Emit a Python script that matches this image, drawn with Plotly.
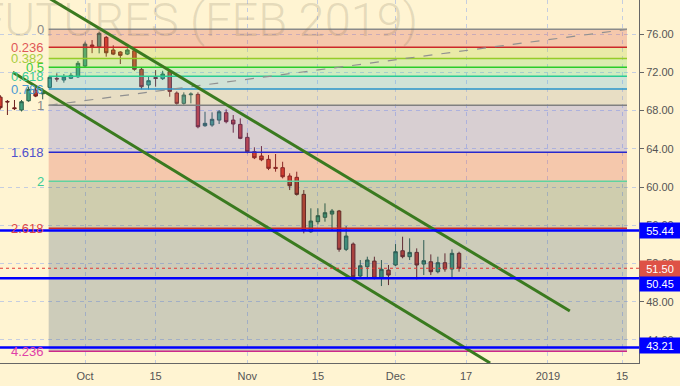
import plotly.graph_objects as go

# ---------------- data ----------------
dates = ["2018-09-13", "2018-09-14", "2018-09-17", "2018-09-18", "2018-09-19", "2018-09-20", "2018-09-21",
         "2018-09-24", "2018-09-25", "2018-09-26", "2018-09-27", "2018-09-28",
         "2018-10-01", "2018-10-02", "2018-10-03", "2018-10-04", "2018-10-05",
         "2018-10-08", "2018-10-09", "2018-10-10", "2018-10-11", "2018-10-12",
         "2018-10-15", "2018-10-16", "2018-10-17", "2018-10-18", "2018-10-19",
         "2018-10-22", "2018-10-23", "2018-10-24", "2018-10-25", "2018-10-26",
         "2018-10-29", "2018-10-30", "2018-10-31", "2018-11-01", "2018-11-02",
         "2018-11-05", "2018-11-06", "2018-11-07", "2018-11-08", "2018-11-09",
         "2018-11-12", "2018-11-13", "2018-11-14", "2018-11-15", "2018-11-16",
         "2018-11-19", "2018-11-20", "2018-11-21", "2018-11-23",
         "2018-11-26", "2018-11-27", "2018-11-28", "2018-11-29", "2018-11-30",
         "2018-12-03", "2018-12-04", "2018-12-05", "2018-12-06", "2018-12-07",
         "2018-12-10", "2018-12-11", "2018-12-12", "2018-12-13", "2018-12-14"]
first_bar_offset = -12  # bar index of first date relative to 2018-10-01

open_ = [69.40, 68.95, 68.28, 68.05, 69.02, 70.14, 69.75,
         70.42, 71.36, 71.19, 71.37, 71.53,
         72.65, 74.85, 74.67, 75.65, 74.33,
         74.12, 73.90, 74.25, 72.31, 70.67,
         71.45, 71.33, 72.06, 69.83, 68.75,
         69.65, 69.69, 66.41, 66.48, 67.00,
         67.77, 67.00, 66.55, 65.19, 63.69,
         63.24, 62.89, 62.05, 62.02, 61.15,
         61.01, 59.23, 55.32, 56.37, 56.83,
         57.17, 57.49, 53.48, 54.03,
         50.69, 51.66, 52.25, 50.44, 51.31,
         51.84, 53.33, 52.71, 53.16, 51.94,
         52.18, 51.14, 52.08, 51.42, 53.06]
high = [69.60, 69.10, 69.10, 69.10, 70.49, 70.42, 70.32,
        71.60, 71.89, 71.82, 71.95, 73.18,
        75.20, 75.37, 76.24, 75.79, 74.82,
        74.20, 74.50, 74.50, 72.50, 71.61,
        72.23, 72.16, 72.23, 70.00, 69.90,
        69.90, 69.90, 67.87, 67.81, 68.05,
        68.12, 67.53, 67.18, 65.68, 64.15,
        64.28, 63.34, 63.45, 62.64, 61.43,
        61.60, 59.68, 57.77, 57.77, 58.29,
        57.70, 57.60, 55.92, 54.20,
        52.36, 52.71, 52.71, 52.36, 51.84,
        54.03, 54.80, 54.63, 53.58, 54.45,
        52.95, 52.71, 53.06, 53.48, 53.23]
low = [68.10, 67.53, 68.05, 67.90, 68.92, 69.40, 69.17,
       70.30, 71.01, 70.91, 71.30, 71.40,
       72.50, 74.00, 73.98, 73.63, 73.80,
       72.86, 73.80, 72.16, 70.22, 70.20,
       70.49, 71.19, 69.44, 68.60, 68.60,
       68.75, 66.14, 66.30, 66.30, 66.59,
       66.66, 65.68, 65.00, 63.52, 62.92,
       62.70, 61.77, 61.60, 60.90, 59.68,
       59.10, 55.15, 55.20, 56.09, 56.37,
       55.50, 53.23, 53.30, 50.44,
       50.55, 50.55, 50.34, 49.64, 49.74,
       51.73, 52.54, 52.36, 50.34, 50.79,
       50.79, 50.97, 51.14, 50.55, 51.14]
close = [68.30, 68.90, 68.20, 68.92, 70.22, 69.51, 69.85,
         71.47, 71.30, 71.50, 71.68, 72.94,
         74.95, 74.70, 76.07, 74.04, 73.90,
         73.77, 74.33, 72.31, 70.49, 71.12,
         71.35, 71.82, 70.00, 68.75, 69.62,
         69.72, 66.30, 66.66, 67.08, 67.87,
         66.83, 66.59, 65.09, 63.69, 63.06,
         62.85, 61.95, 61.95, 61.07, 60.13,
         59.23, 55.50, 56.44, 57.00, 57.31,
         57.49, 53.48, 54.87, 50.61,
         51.76, 52.36, 50.44, 51.39, 50.79,
         53.23, 52.71, 53.16, 51.84, 52.29,
         51.14, 52.08, 51.42, 53.06, 51.50]

tick_bars = [0, 10, 23, 33, 44, 54, 65.6, 76.1]
tick_labels = ["Oct", "15", "Nov", "15", "Dec", "17", "2019", "15"]
price_ticks = [44, 48, 52, 56, 60, 64, 68, 72, 76]

# Fibonacci retracement drawing (bar index, price anchors)
fib_start_bar, fib_end_bar = -5.15, 76.8
fib_price_0, fib_price_1 = 76.49, 68.54
fib_levels = [0, 0.236, 0.382, 0.5, 0.618, 0.786, 1, 1.618, 2, 2.618, 4.236]
fib_labels = ["0", "0.236", "0.382", "0.5", "0.618", "0.786", "1", "1.618", "2", "2.618", "4.236"]
fib_line_colors = ["#8a8a8a", "#cc2828", "#95cc28", "#28cc28", "#28cc95", "#2895cc",
                   "#808080", "#2828cc", "#5fd3a0", "#cc2828", "#cc288a"]
fib_text_colors = ["#8a8a8a", "#e05858", "#a8cc40", "#40cc40", "#3ccc96", "#4a9ad4",
                   "#8a8a8a", "#5050cc", "#3ccc96", "#e04848", "#e040a8"]
fib_band_colors = ["rgba(215,68,58,0.25)", "rgba(171,204,42,0.25)", "rgba(107,212,74,0.25)",
                   "rgba(67,212,138,0.25)", "rgba(67,172,226,0.25)", "rgba(163,156,154,0.25)",
                   "rgba(99,96,210,0.25)", "rgba(215,68,58,0.25)", "rgba(63,88,66,0.25)",
                   "rgba(55,84,114,0.25)"]

# channel trend lines (bar index, price)
upper_channel = [(-5.2, 79.8), (68.7, 47.03)]
lower_channel = [(-10.25, 72.0), (57.4, 41.59)]

# horizontal levels
blue_levels = [55.44, 50.45, 43.21]
last_price = 51.50

# ---------------- figure ----------------
bars = [first_bar_offset + k for k in range(len(dates))]

fig = go.Figure()
fig.add_trace(go.Candlestick(
    x=bars, open=open_, high=high, low=low, close=close,
    increasing=dict(line=dict(color="#2b5e48", width=1), fillcolor="#44a07e"),
    decreasing=dict(line=dict(color="#6e1e1e", width=1), fillcolor="#d03c2e"),
    hoverinfo="skip", showlegend=False,
))

def fib_price(lv):
    return fib_price_0 - lv * (fib_price_0 - fib_price_1)

shapes = []
for k in range(len(fib_levels) - 1):
    shapes.append(dict(type="rect", xref="x", yref="y", x0=fib_start_bar, x1=fib_end_bar,
                       y0=fib_price(fib_levels[k]), y1=fib_price(fib_levels[k + 1]),
                       fillcolor=fib_band_colors[k], line=dict(width=0), layer="above"))
for lv, col in zip(fib_levels, fib_line_colors):
    shapes.append(dict(type="line", xref="x", yref="y", x0=fib_start_bar, x1=fib_end_bar,
                       y0=fib_price(lv), y1=fib_price(lv), line=dict(color=col, width=1.5), layer="above"))
shapes.append(dict(type="line", xref="x", yref="y", x0=fib_start_bar, x1=fib_end_bar,
                   y0=fib_price_1, y1=fib_price_0, line=dict(color="#909090", width=1.2, dash="dash"),
                   layer="above"))
for ch in (upper_channel, lower_channel):
    shapes.append(dict(type="line", xref="x", yref="y", x0=ch[0][0], y0=ch[0][1], x1=ch[1][0], y1=ch[1][1],
                       line=dict(color="#3a7a1f", width=3), layer="above"))
for lvl in blue_levels:
    shapes.append(dict(type="line", xref="paper", yref="y", x0=0, x1=1, y0=lvl, y1=lvl,
                       line=dict(color="#0000ff", width=2.5), layer="above"))
shapes.append(dict(type="line", xref="paper", yref="y", x0=0, x1=1, y0=last_price, y1=last_price,
                   line=dict(color="#e53935", width=1, dash="dot"), layer="above"))

annotations = []
annotations.append(dict(xref="paper", yref="paper", x=420 / 639, y=1, xanchor="right", yanchor="middle",
                        yshift=-19, text="CRUDE OIL FUTURES (FEB 2019)", showarrow=False,
                        font=dict(family="Roboto", size=47, weight=300, color="rgba(120,110,85,0.2)")))
for lv, lab, col in zip(fib_levels, fib_labels, fib_text_colors):
    annotations.append(dict(xref="x", yref="y", x=fib_start_bar, y=fib_price(lv), xanchor="right",
                            yanchor="middle", xshift=-3, text=lab, showarrow=False,
                            font=dict(family="Liberation Sans", size=13, color=col)))
box_shift = {55.44: 0, 50.45: -5, 43.21: 2}
for lvl in blue_levels:
    annotations.append(dict(xref="paper", yref="y", x=1, y=lvl, xanchor="left", yanchor="middle",
                            yshift=box_shift[lvl], text=f"{lvl:.2f}", showarrow=False, bgcolor="#0000ff",
                            width=38, height=13, borderpad=1,
                            font=dict(family="Liberation Sans", size=11, color="white")))
annotations.append(dict(xref="paper", yref="y", x=1, y=last_price, xanchor="left", yanchor="middle",
                        text=f"{last_price:.2f}", showarrow=False, bgcolor="#de5246",
                        width=38, height=13, borderpad=1,
                        font=dict(family="Liberation Sans", size=11, color="white")))

fig.update_layout(
    width=680, height=386,
    margin=dict(l=0, r=41, t=0, b=23),
    paper_bgcolor="#fff4d2", plot_bgcolor="#fff4d2",
    shapes=shapes, annotations=annotations,
    showlegend=False, hovermode=False,
    font=dict(family="Liberation Sans", size=11, color="#555555"),
)
fig.update_xaxes(
    range=[-12.05, 78.5], rangeslider=dict(visible=False),
    tickvals=tick_bars, ticktext=tick_labels,
    showgrid=True, gridcolor="#c5cde0", griddash="4px,4px", gridwidth=1,
    showline=True, linecolor="#666666", linewidth=1,
    ticks="", zeroline=False, ticklabelstandoff=3,
    tickfont=dict(family="Liberation Sans", size=11, color="#555555"),
)
fig.update_yaxes(
    range=[41.59, 79.56], side="right",
    tickvals=price_ticks, tickformat=".2f",
    showgrid=True, gridcolor="#c5cde0", griddash="4px,4px", gridwidth=1,
    showline=True, linecolor="#666666", linewidth=1,
    ticks="outside", ticklen=4, tickcolor="#666666", zeroline=False,
    tickfont=dict(family="Liberation Sans", size=11, color="#555555"),
)

fig.write_html("out.html", config={"displayModeBar": False},
               post_script="document.body.style.margin='0';document.body.style.overflow='hidden';")
